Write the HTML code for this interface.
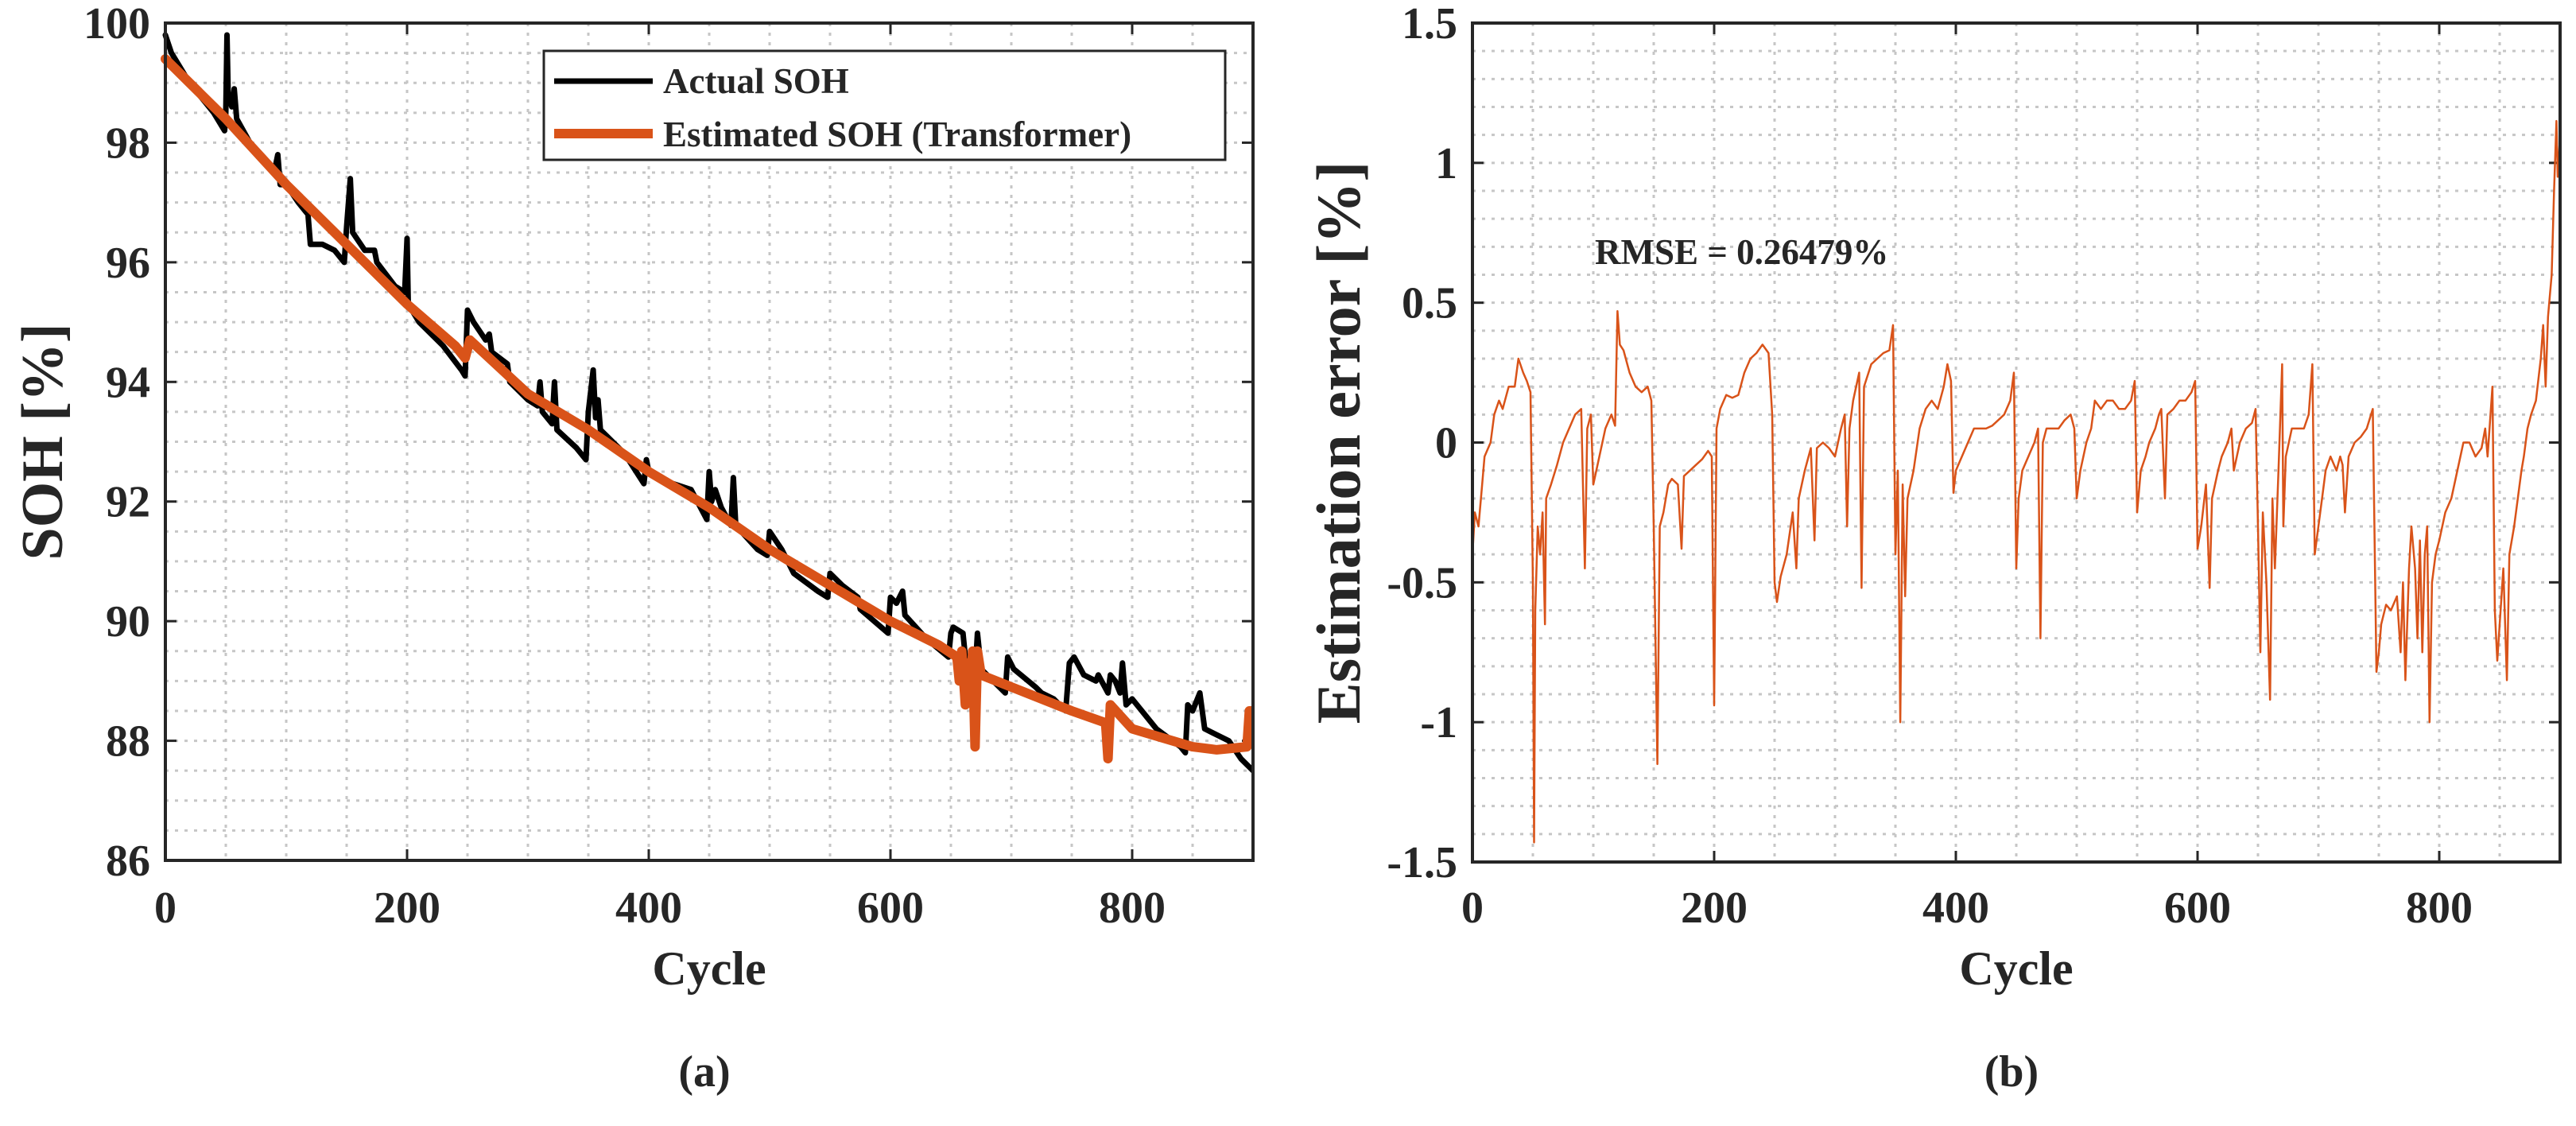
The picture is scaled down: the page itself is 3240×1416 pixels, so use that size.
<!DOCTYPE html>
<html><head><meta charset="utf-8"><style>
html,body{margin:0;padding:0;background:#fff;}
svg text{font-family:"Liberation Serif",serif;font-weight:bold;fill:#262626;}
</style></head><body>
<svg id="fig" width="3240" height="1411" viewBox="0 0 3240 1411" xmlns="http://www.w3.org/2000/svg">
<g id="pa"></g>
<g id="pb"></g>
</svg>
<script>
// ---- Data: panel (a) ----
const actCycles=[0,5,20,40,49,50,51,52,55,57,59,70,90,93,95,100,110,118,120,130,140,148,150,153,155,165,173,175,190,198,200,201,210,230,245,248,250,255,265,268,270,283,285,300,308,310,312,320,322,324,340,348,350,354,356,358,360,380,396,398,400,420,435,448,450,452,455,460,468,470,472,490,498,500,510,520,540,548,550,560,573,575,598,600,605,610,612,630,648,650,652,660,662,670,672,675,695,697,702,720,725,735,745,748,752,760,770,772,780,782,786,790,792,795,800,820,840,844,846,850,856,860,870,880,890,900];
const actValues=[99.8,99.5,99.0,98.5,98.2,98.5,99.8,98.8,98.6,98.9,98.4,98.0,97.5,97.8,97.3,97.3,97.0,96.8,96.3,96.3,96.2,96.0,96.6,97.4,96.5,96.2,96.2,96.0,95.6,95.5,96.4,95.3,95.0,94.6,94.2,94.1,95.2,95.0,94.7,94.8,94.5,94.3,94.0,93.7,93.6,94.0,93.5,93.3,94.0,93.2,92.9,92.7,93.5,94.2,93.4,93.7,93.2,92.8,92.3,92.7,92.5,92.3,92.2,91.7,92.5,92.0,92.2,91.9,91.6,92.4,91.6,91.2,91.1,91.5,91.2,90.8,90.5,90.4,90.8,90.6,90.4,90.2,89.8,90.4,90.3,90.5,90.1,89.7,89.4,89.8,89.9,89.8,89.4,89.1,89.8,89.2,88.8,89.4,89.2,88.9,88.8,88.7,88.5,89.3,89.4,89.1,89.0,89.1,88.8,89.1,89.0,88.8,89.3,88.6,88.7,88.2,87.9,87.8,88.6,88.5,88.8,88.2,88.1,88.0,87.7,87.5];
const estCycles=[0,20,50,100,150,200,240,248,252,300,350,400,450,500,550,600,640,655,657,659,662,664,666,668,670,672,675,700,750,778,780,782,800,850,870,895,897,900];
const estValues=[99.4,99.0,98.4,97.3,96.3,95.3,94.6,94.4,94.7,93.8,93.2,92.5,91.9,91.2,90.6,90.0,89.6,89.4,89.0,89.5,88.6,89.3,88.8,89.5,87.9,89.5,89.1,88.9,88.5,88.3,87.7,88.6,88.2,87.9,87.85,87.9,88.5,88.5];
const aXTicks=[0,200,400,600,800];
const aYTicks=[86,88,90,92,94,96,98,100];
// ---- Data: panel (b) ----
const errCycles=[0,2,5,8,10,15,18,22,25,30,35,38,42,45,48,50,51,52,54,56,58,60,61,65,70,75,80,85,90,93,95,98,100,105,110,115,118,120,122,125,130,135,140,145,148,150,153,155,158,162,165,170,173,175,180,185,190,195,198,200,202,205,210,215,220,225,230,235,240,245,248,250,252,255,260,265,268,270,275,280,283,285,290,295,300,305,308,310,312,315,320,322,324,330,335,340,345,348,350,352,354,356,358,360,365,370,375,380,385,390,393,396,398,400,405,410,415,420,425,430,435,440,445,448,450,452,455,460,465,468,470,472,475,480,485,490,495,498,500,503,508,512,515,520,525,530,535,540,545,548,550,553,557,560,565,568,570,573,575,580,585,590,595,598,600,603,607,610,612,617,620,625,628,630,635,640,645,648,650,652,654,657,660,662,664,667,670,671,673,678,683,688,692,695,697,700,703,706,710,715,718,720,722,725,730,735,740,745,748,750,752,756,760,765,768,770,772,775,777,780,782,784,786,788,790,792,794,797,800,805,810,815,820,825,830,835,838,840,844,846,848,850,853,856,858,862,865,868,870,873,876,880,884,886,888,890,893,895,897,898,900];
const errValues=[-0.4,-0.25,-0.3,-0.15,-0.05,0.0,0.1,0.15,0.12,0.2,0.2,0.3,0.25,0.22,0.18,-0.5,-1.43,-0.6,-0.3,-0.4,-0.25,-0.65,-0.2,-0.15,-0.08,0.0,0.05,0.1,0.12,-0.45,0.05,0.1,-0.15,-0.05,0.05,0.1,0.06,0.47,0.35,0.33,0.25,0.2,0.18,0.2,0.15,-0.3,-1.15,-0.3,-0.25,-0.15,-0.13,-0.15,-0.38,-0.12,-0.1,-0.08,-0.06,-0.03,-0.05,-0.94,0.05,0.12,0.17,0.16,0.17,0.25,0.3,0.32,0.35,0.32,0.1,-0.5,-0.57,-0.48,-0.4,-0.25,-0.45,-0.2,-0.1,-0.02,-0.35,-0.02,0.0,-0.02,-0.05,0.05,0.1,-0.3,0.05,0.15,0.25,-0.52,0.2,0.28,0.3,0.32,0.33,0.42,-0.4,-0.1,-1.0,-0.15,-0.55,-0.2,-0.1,0.05,0.12,0.15,0.12,0.2,0.28,0.22,-0.18,-0.1,-0.05,0.0,0.05,0.05,0.05,0.06,0.08,0.1,0.15,0.25,-0.45,-0.2,-0.1,-0.05,0.0,0.05,-0.7,0.0,0.05,0.05,0.05,0.08,0.1,0.05,-0.2,-0.1,0.0,0.05,0.15,0.12,0.15,0.15,0.12,0.12,0.15,0.22,-0.25,-0.1,-0.05,0.0,0.05,0.1,0.12,-0.2,0.1,0.12,0.15,0.15,0.18,0.22,-0.38,-0.3,-0.15,-0.52,-0.2,-0.1,-0.05,0.0,0.05,-0.1,0.0,0.05,0.07,0.12,-0.3,-0.75,-0.25,-0.5,-0.92,-0.2,-0.45,-0.1,0.28,-0.3,-0.05,0.05,0.05,0.05,0.1,0.28,-0.4,-0.3,-0.2,-0.1,-0.05,-0.1,-0.05,-0.08,-0.25,-0.05,0.0,0.02,0.05,0.12,-0.82,-0.75,-0.65,-0.58,-0.6,-0.55,-0.75,-0.5,-0.85,-0.45,-0.3,-0.45,-0.7,-0.35,-0.75,-0.4,-0.3,-1.0,-0.5,-0.4,-0.35,-0.25,-0.2,-0.1,0.0,0.0,-0.05,-0.02,0.05,-0.05,0.2,-0.6,-0.78,-0.65,-0.45,-0.85,-0.4,-0.3,-0.2,-0.1,-0.05,0.05,0.1,0.15,0.3,0.42,0.2,0.45,0.6,0.9,1.15,0.95,1.1];
const bXTicks=[0,200,400,600,800];
const bYTicks=[-1.5,-1,-0.5,0,0.5,1,1.5];
const bYLabels=["-1.5","-1","-0.5","0","0.5","1","1.5"];

const NS="http://www.w3.org/2000/svg";
function mk(parent,tag,attrs,txt){const e=document.createElementNS(NS,tag);for(const k in attrs)e.setAttribute(k,attrs[k]);if(txt!==undefined)e.textContent=txt;parent.appendChild(e);return e;}

function axes(g,L,R,T,B,xmin,xmax,ymin,ymax,xMinor,yMinor,xTicks,yTicks,yLabels,ylabel,ylabelX,ylabelSize,panelLabel){
  const sx=v=>L+(v-xmin)/(xmax-xmin)*(R-L);
  const sy=v=>B-(v-ymin)/(ymax-ymin)*(B-T);
  const grid=mk(g,'g',{});
  
  
  for(let v=xmin+xMinor;v<xmax-1e-9;v+=xMinor){
    const l=mk(grid,'line',{x1:sx(v),x2:sx(v),y1:T,y2:B,stroke:'#c6c6c6','stroke-width':3,'stroke-dasharray':'4 8'});
    
    
  }
  const nY=Math.round((ymax-ymin)/yMinor);
  for(let i=1;i<nY;i++){const v=ymin+i*yMinor;
    const l=mk(grid,'line',{x1:L,x2:R,y1:sy(v),y2:sy(v),stroke:'#c6c6c6','stroke-width':3,'stroke-dasharray':'4 8'});
    
    
  }
  xTicks.forEach(v=>{
    mk(g,'line',{x1:sx(v),x2:sx(v),y1:B,y2:B-14,stroke:'#262626','stroke-width':3});
    mk(g,'line',{x1:sx(v),x2:sx(v),y1:T,y2:T+14,stroke:'#262626','stroke-width':3});
    const t=mk(g,'text',{x:sx(v),y:1160,'text-anchor':'middle','font-size':56},String(v));
    
    
  });
  yTicks.forEach((v,i)=>{
    mk(g,'line',{x1:L,x2:L+14,y1:sy(v),y2:sy(v),stroke:'#262626','stroke-width':3});
    mk(g,'line',{x1:R,x2:R-14,y1:sy(v),y2:sy(v),stroke:'#262626','stroke-width':3});
    const t=mk(g,'text',{x:L-19,y:sy(v)+19,'text-anchor':'end','font-size':56},yLabels[i]);
    
    
  });
  const xl=mk(g,'text',{x:(L+R)/2,y:1238,'text-anchor':'middle','font-size':60},'Cycle');
  
  
  const yl=mk(g,'text',{x:0,y:0,'text-anchor':'middle','font-size':ylabelSize,transform:`translate(${ylabelX},${(T+B)/2}) rotate(-90)`},ylabel);
  
  
  const pl=mk(g,'text',{x:(L+R)/2-6,y:1366,'text-anchor':'middle','font-size':56},panelLabel);
  
  
  return {sx,sy};
}
function line(g,xs,ys,sx,sy,color,w,name){
  const d=xs.map((c,i)=>(i?'L':'M')+sx(c).toFixed(1)+' '+sy(ys[i]).toFixed(1)).join('');
  const p=mk(g,'path',{d:d,fill:'none',stroke:color,'stroke-width':w,'stroke-linejoin':'round','stroke-linecap':'round'});
  
  
  return p;
}
// Panel a
const ga=document.getElementById('pa');
const A={L:208,R:1576,T:29,B:1082};
const sa=axes(ga,A.L,A.R,A.T,A.B,0,900,86,100,50,0.5,aXTicks,aYTicks,aYTicks.map(String),'SOH [%]',78,74,'(a)');
const clipA=mk(ga,'clipPath',{id:'ca'});mk(clipA,'rect',{x:A.L-6,y:A.T-6,width:A.R-A.L+6,height:A.B-A.T+12});
const da=mk(ga,'g',{'clip-path':'url(#ca)'});
line(da,actCycles,actValues,sa.sx,sa.sy,'#000',7,'actual-soh-line');
line(da,estCycles,estValues,sa.sx,sa.sy,'#D95319',12,'estimated-soh-line');
mk(ga,'rect',{x:A.L,y:A.T,width:A.R-A.L,height:A.B-A.T,fill:'none',stroke:'#262626','stroke-width':4});
// legend
const lg=mk(ga,'g',{});


mk(lg,'rect',{x:684,y:64,width:857,height:137,fill:'#fff',stroke:'#262626','stroke-width':3});
mk(lg,'line',{x1:697,x2:821,y1:102,y2:102,stroke:'#000','stroke-width':7});
const l1=mk(lg,'text',{x:834,y:117,'font-size':45},'Actual SOH');


mk(lg,'line',{x1:697,x2:821,y1:168,y2:168,stroke:'#D95319','stroke-width':12});
const l2=mk(lg,'text',{x:834,y:184,'font-size':45},'Estimated SOH (Transformer)');


// Panel b
const gb=document.getElementById('pb');
const Bp={L:1852,R:3220,T:29,B:1084};
const sb=axes(gb,Bp.L,Bp.R,Bp.T,Bp.B,0,900,-1.5,1.5,50,0.1,bXTicks,bYTicks,bYLabels,'Estimation error [%]',1710,78,'(b)');
const clipB=mk(gb,'clipPath',{id:'cb'});mk(clipB,'rect',{x:Bp.L,y:Bp.T,width:Bp.R-Bp.L,height:Bp.B-Bp.T});
const db=mk(gb,'g',{'clip-path':'url(#cb)'});
line(db,errCycles,errValues,sb.sx,sb.sy,'#D95319',2.5,'estimation-error-line');
mk(gb,'rect',{x:Bp.L,y:Bp.T,width:Bp.R-Bp.L,height:Bp.B-Bp.T,fill:'none',stroke:'#262626','stroke-width':4});
const rm=mk(gb,'text',{x:2006,y:332,'font-size':45,fill:'#000'},'RMSE = 0.26479%');


</script>
</body></html>
